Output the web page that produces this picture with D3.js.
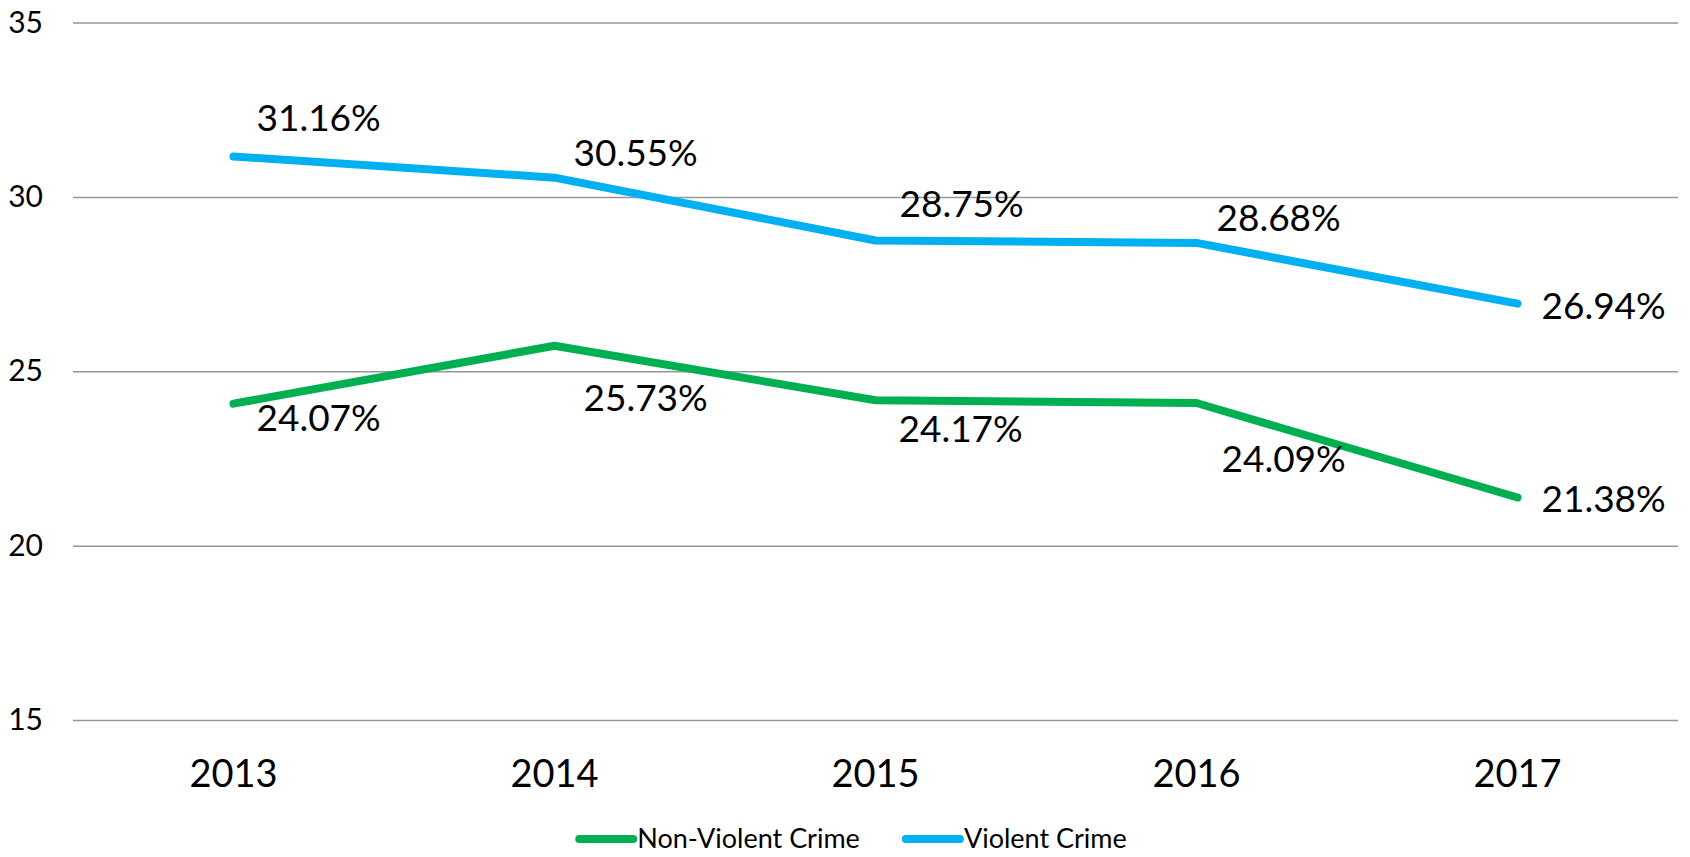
<!DOCTYPE html>
<html lang="en">
	<head>
		<meta charset="utf-8">
		<title>Crime rates 2013-2017</title>
		<script type="text/javascript" src="https://cdn.jsdelivr.net/npm/d3@7"></script>
		<style>
			body { margin: 0; background: #fff; }
			text { font-family: Lato, "Open Sans", sans-serif; fill: #000; }
		</style>
	</head>
	<body>
		<script type="text/javascript">
			var years = ["2013", "2014", "2015", "2016", "2017"];
			var nonViolent = [24.07, 25.73, 24.17, 24.09, 21.38];
			var violent = [31.16, 30.55, 28.75, 28.68, 26.94];
			var yTicks = [15, 20, 25, 30, 35];
			var seriesNames = ["Non-Violent Crime", "Violent Crime"];

			// label nudges (px) relative to each point, as placed in the original
			var violentOffset = [[23, -38], [19, -25], [24, -36], [20, -25], [24, 2]];
			var nonViolentOffset = [[23, 14], [29, 52], [23, 29], [25, 56], [24, 2]];

			var w = 1690, h = 857;
			var mLeft = 73, mRight = 1678, mTop = 22.5, mBottom = 720;

			var svg = d3.select("body").append("svg")
				.attr("width", w)
				.attr("height", h);

			var x = d3.scalePoint().domain(years).range([mLeft, mRight]).padding(0.5);
			var y = d3.scaleLinear().domain([15, 35]).range([mBottom, mTop]);

			var yAxis = svg.append("g")
				.attr("transform", "translate(" + mLeft + ",0)")
				.call(d3.axisLeft(y).tickValues(yTicks).tickSize(-(mRight - mLeft)).tickPadding(30));
			yAxis.select(".domain").remove();
			yAxis.selectAll("line").attr("stroke", "#969696").attr("stroke-width", 1.5);
			yAxis.selectAll("text").attr("font-size", "30px").attr("fill", "#000")
				.style("font-family", "Lato, sans-serif");

			svg.append("g").selectAll("text")
				.data(years)
				.enter().append("text")
				.attr("x", function(d) { return x(d); })
				.attr("y", 774)
				.attr("dy", "0.35em")
				.attr("text-anchor", "middle")
				.attr("font-size", "38px")
				.text(function(d) { return d; });

			var series = [
				{ name: seriesNames[0], values: nonViolent, color: "#00B050", offs: nonViolentOffset },
				{ name: seriesNames[1], values: violent, color: "#00B0F0", offs: violentOffset }
			];

			var line = d3.line()
				.x(function(d, i) { return x(years[i]); })
				.y(function(d) { return y(d); });

			series.forEach(function(s) {
				svg.append("path")
					.datum(s.values)
					.attr("d", line)
					.attr("fill", "none")
					.attr("stroke", s.color)
					.attr("stroke-width", 8)
					.attr("stroke-linecap", "round")
					.attr("stroke-linejoin", "round");

				svg.append("g").selectAll("text")
					.data(s.values)
					.enter().append("text")
					.attr("x", function(d, i) { return x(years[i]) + s.offs[i][0]; })
					.attr("y", function(d, i) { return y(d) + s.offs[i][1]; })
					.attr("dy", "0.35em")
					.attr("font-size", "37px")
					.text(function(d) { return d.toFixed(2) + "%"; });
			});

			// legend, laid out from measured text widths and centred
			var legend = svg.append("g");
			var items = legend.selectAll("g")
				.data(series)
				.enter().append("g");
			items.append("line")
				.attr("x1", 0).attr("x2", 54)
				.attr("stroke", function(d) { return d.color; })
				.attr("stroke-width", 8)
				.attr("stroke-linecap", "round");
			items.append("text")
				.attr("x", 58)
				.attr("dy", "0.35em")
				.attr("font-size", "27px")
				.text(function(d) { return d.name; });
			var pos = 0;
			items.each(function() {
				var tw = d3.select(this).select("text").node().getComputedTextLength();
				d3.select(this).attr("data-x", pos);
				pos += 58 + tw + 46;
			});
			var total = pos - 46;
			var start = 853 - total / 2;
			items.attr("transform", function() {
				return "translate(" + (start + (+d3.select(this).attr("data-x"))) + ",839)";
			});
		</script>
	</body>
</html>
